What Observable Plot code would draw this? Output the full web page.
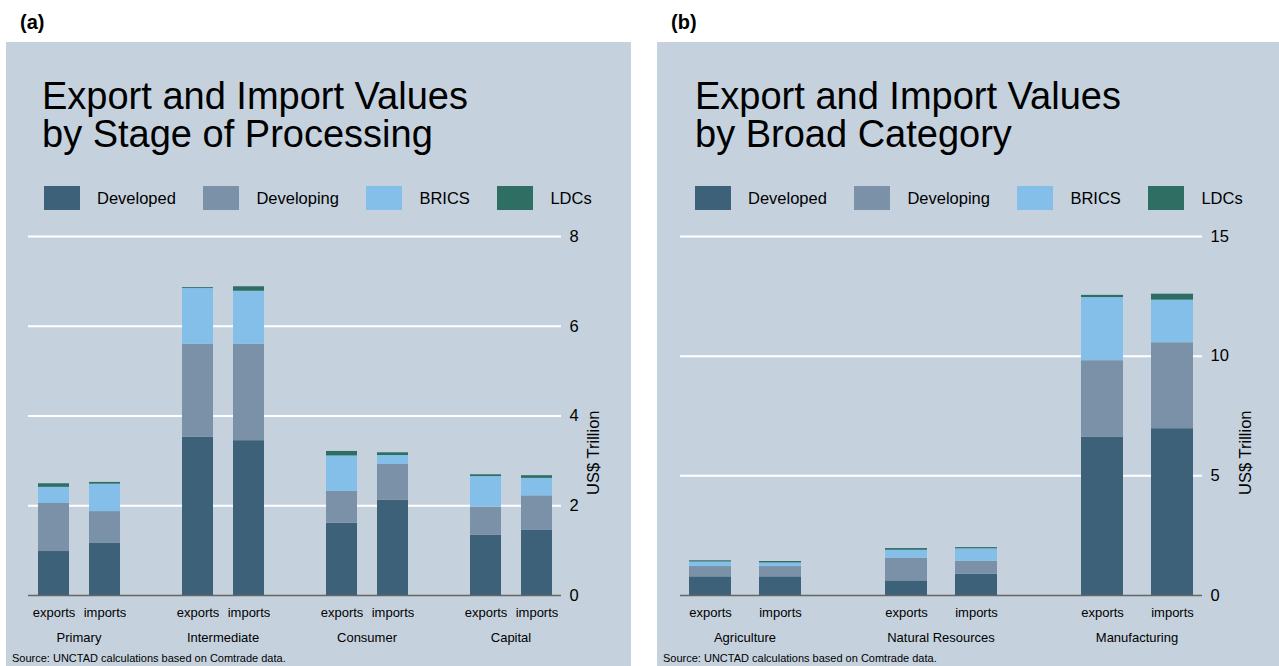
<!DOCTYPE html>
<html>
<head>
<meta charset="utf-8">
<script src="https://cdn.jsdelivr.net/npm/d3@7"></script>
<script src="https://cdn.jsdelivr.net/npm/@observablehq/plot@0.6"></script>
<style>
  body { margin: 0; background: #ffffff; font-family: "Liberation Sans", Arial, sans-serif; color: #000; }
  #page { position: relative; width: 1279px; height: 666px; overflow: hidden; }
  .tag { position: absolute; top: 11px; font-weight: bold; font-size: 20px; }
  .panel { position: absolute; top: 42px; height: 624px; background: #c5d2de; }
  .title { position: absolute; left: 36px; top: 36px; font-size: 38px; line-height: 37.5px; white-space: nowrap; }
  .legend { position: absolute; left: 38px; top: 144px; }
  .chart { position: absolute; left: 0; top: 174px; width: 100%; height: 429px; }
  .chart > svg { position: absolute; left: 0; top: 0; max-width: none; }
  .source { position: absolute; left: 6px; bottom: 2px; font-size: 11px; white-space: nowrap; }
  .lg-swatches-wrap { min-height: 0; margin-bottom: 0; }
  .lg-swatch { margin-right: 27.5px; }
  .lg-swatch > svg { margin-right: 17px; }
</style>
</head>
<body>
<div id="page">
  <div class="tag" style="left:20px">(a)</div>
  <div class="tag" style="left:671px">(b)</div>
  <div class="panel" id="panelA" style="left:6px;width:625px">
    <div class="title">Export and Import Values<br>by Stage of Processing</div>
    <div class="legend"></div>
    <div class="chart"></div>
    <div class="source">Source: UNCTAD calculations based on Comtrade data.</div>
  </div>
  <div class="panel" id="panelB" style="left:657px;width:622px">
    <div class="title" style="left:38px">Export and Import Values<br>by Broad Category</div>
    <div class="legend"></div>
    <div class="chart"></div>
    <div class="source">Source: UNCTAD calculations based on Comtrade data.</div>
  </div>
</div>
<script>
// Country groups, stacked bottom to top
const groups = ["Developed", "Developing", "BRICS", "LDCs"];
const groupColors = ["#3d6179", "#7b91a8", "#83bfe9", "#2e6e63"];
const flows = ["exports", "imports"];
const yLabel = "US$ Trillion";

// (a) Stage of processing, US$ trillion; order: each stage's exports then imports
const stages = ["Primary", "Intermediate", "Consumer", "Capital"];
const developedA  = [0.98, 1.17, 3.53, 3.45, 1.61, 2.12, 1.34, 1.45];
const developingA = [1.07, 0.70, 2.07, 2.15, 0.71, 0.80, 0.63, 0.77];
const bricsA      = [0.36, 0.61, 1.24, 1.18, 0.79, 0.20, 0.68, 0.39];
const ldcsA       = [0.08, 0.04, 0.02, 0.10, 0.10, 0.06, 0.04, 0.06];
const ticksA = [0, 2, 4, 6, 8];

// (b) Broad category, US$ trillion
const categories = ["Agriculture", "Natural Resources", "Manufacturing"];
const developedB  = [0.78, 0.78, 0.61, 0.89, 6.62, 6.97];
const developingB = [0.43, 0.43, 0.95, 0.54, 3.19, 3.59];
const bricsB      = [0.19, 0.15, 0.33, 0.52, 2.64, 1.78];
const ldcsB       = [0.05, 0.06, 0.07, 0.05, 0.09, 0.25];
const ticksB = [0, 5, 10, 15];

function rows(cats, seriesList) {
  const out = [];
  seriesList.forEach((vals, g) => {
    cats.forEach((cat, i) => {
      flows.forEach((flow, j) => {
        out.push({cat, flow, group: groups[g], value: vals[i * flows.length + j]});
      });
    });
  });
  return out;
}

const font = '"Liberation Sans", Arial, sans-serif';

function drawPanel(el, cats, seriesList, ticks, opts) {
  const data = rows(cats, seriesList);
  const frame = {
    width: opts.width,
    height: 429,
    marginTop: 20,
    marginBottom: 50,
    marginLeft: opts.marginLeft,
    marginRight: opts.marginRight,
    style: {fontFamily: font, background: "transparent", color: "#000"}
  };
  const yScale = {domain: [0, ticks[ticks.length - 1]]};
  const host = el.querySelector(".chart");

  // full-width grid lines behind the faceted bars, plus the vertical axis title
  host.appendChild(Plot.plot({
    ...frame,
    y: {...yScale, axis: null},
    marks: [
      Plot.ruleY(ticks.filter(d => d > 0), {stroke: "#ffffff", strokeWidth: 2}),
      Plot.text([yLabel], {frameAnchor: "right", rotate: -90, dx: opts.labelOffset, dy: -5.5,
        fontSize: 16.5, fill: "#000"})
    ]
  }));

  // stacked bars, one facet per category
  host.appendChild(Plot.plot({
    ...frame,
    fx: {domain: cats, paddingInner: opts.fxPad, paddingOuter: 0},
    x: {domain: flows, paddingInner: opts.xPad, paddingOuter: opts.xOuter},
    y: yScale,
    color: {domain: groups, range: groupColors},
    marks: [
      Plot.barY(data, {fx: "cat", x: "flow", y: "value", fill: "group", order: groups, inset: 0}),
      Plot.axisX({tickSize: 0, tickPadding: 12, fontSize: 13, label: null}),
      Plot.axisFx({anchor: "bottom", tickSize: 0, tickPadding: 37, fontSize: 13, label: null}),
      Plot.axisY({anchor: "right", ticks, tickSize: 0, tickPadding: 9, fontSize: 16.5, label: null})
    ]
  }));

  // zero baseline across the whole frame, above the bars
  host.appendChild(Plot.plot({
    ...frame,
    y: {...yScale, axis: null},
    marks: [Plot.ruleY([0], {stroke: "#666666", strokeWidth: 1.6})]
  }));

  const legend = Plot.legend({
    color: {domain: groups, range: groupColors},
    swatchWidth: 36, swatchHeight: 24, className: "lg",
    style: {fontFamily: font, fontSize: "16.5px", color: "#000"}
  });
  el.querySelector(".legend").appendChild(legend);
}

drawPanel(document.getElementById("panelA"), stages, [developedA, developingA, bricsA, ldcsA], ticksA,
  {width: 625, marginLeft: 22, marginRight: 70, fxPad: 0.31, xPad: 0.394, xOuter: 0.157, labelOffset: 32});
drawPanel(document.getElementById("panelB"), categories, [developedB, developingB, bricsB, ldcsB], ticksB,
  {width: 622, marginLeft: 23, marginRight: 77, fxPad: 0.34, xPad: 0.4, xOuter: 0.121, labelOffset: 43});
</script>
</body>
</html>
